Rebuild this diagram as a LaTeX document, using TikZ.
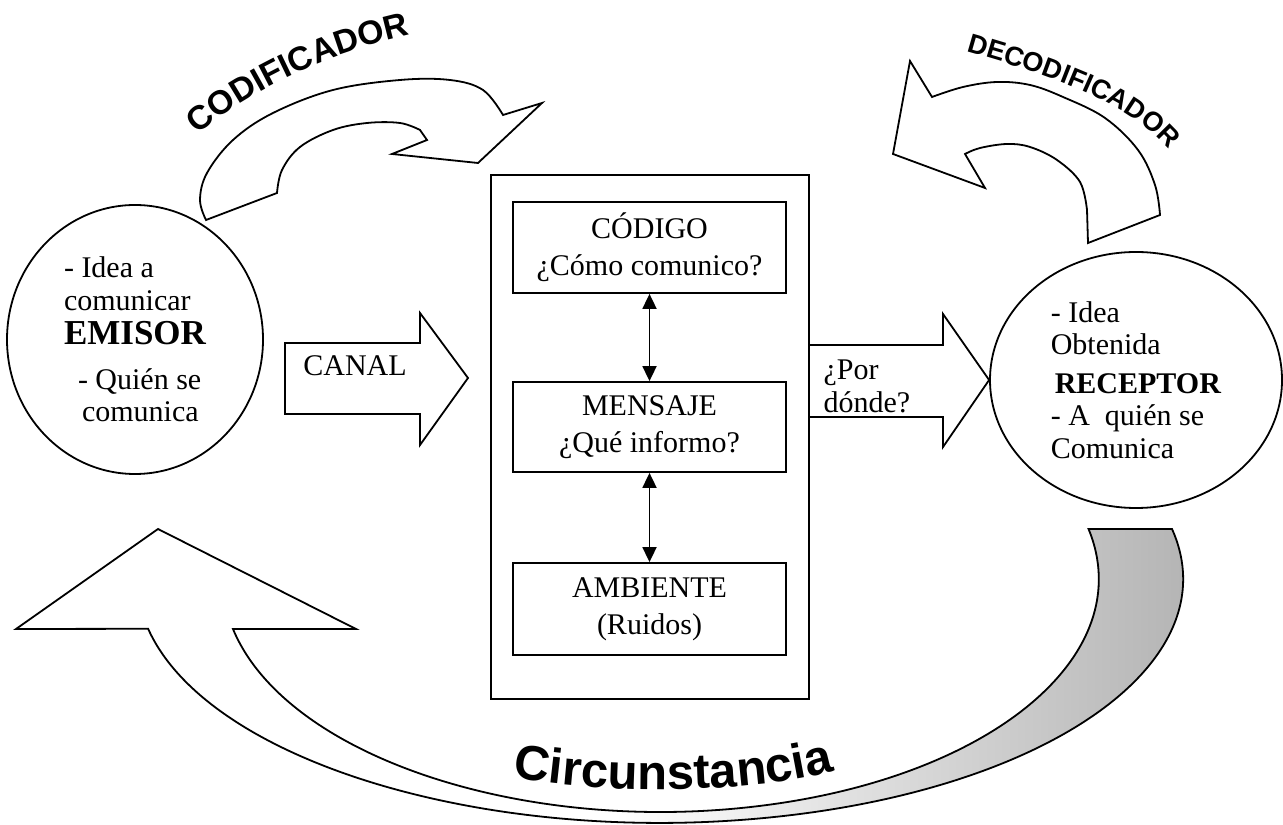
\documentclass[tikz,border=0pt]{standalone}
\usepackage{fontspec}
\setmainfont{Liberation Serif}
\newfontfamily\headfont{Liberation Sans}
\usetikzlibrary{arrows.meta,shapes.geometric,decorations.text}

\newcommand\codfont{\headfont\bfseries\fontsize{16.8}{18}\selectfont}
\newcommand\decfont{\headfont\bfseries\fontsize{13.5}{15}\selectfont}
\newcommand\circfont{\headfont\bfseries\fontsize{24.5}{26}\selectfont}

\begin{document}
\begin{tikzpicture}[x=0.5pt,y=0.5pt,line width=0.9pt,
                    blockarrow/.style={draw,line join=miter}]
\useasboundingbox (0,0) rectangle (1283,824);

\begin{scope}[every node/.style={draw,align=center,inner sep=0pt,
                                 font=\fontsize{15}{18.5}\selectfont}]
    \node[minimum width=159pt,minimum height=262pt] (medio) at (650,387) {};
    \node[minimum width=136.5pt,minimum height=45.5pt] (codigo) at (649.5,576.5) {CÓDIGO\\¿Cómo comunico?};
    \node[minimum width=136.5pt,minimum height=45pt] (mensaje) at (649.5,397) {MENSAJE\\¿Qué informo?};
    \node[minimum width=136.5pt,minimum height=46pt] (ambiente) at (649.5,215) {AMBIENTE\\(Ruidos)};
\end{scope}

\begin{scope}[every node/.style={ellipse,draw,align=left,inner sep=0pt,
                                 font=\fontsize{15}{16.3}\selectfont}]
    \node[minimum width=128pt,minimum height=134.5pt] (emisor) at (135,484.5)
        {- Idea a\\comunicar\\[1pt]{\fontsize{17.5}{20}\selectfont\bfseries EMISOR}\\[6pt]
         \hspace*{7pt}- Quién se\\\hspace*{9pt}comunica};
    \node[minimum width=146pt,minimum height=128pt] (receptor) at (1136,444)
        {- Idea\\Obtenida\\[3pt]\hspace*{2pt}\textbf{RECEPTOR}\\- A\ \ quién se\\Comunica};
\end{scope}

\begin{scope}[>={Triangle[length=7.5pt,width=7pt]},
              every edge/.style={draw,line width=0.9pt}]
    \path [<->] (codigo) edge (mensaje);
    \path [<->] (mensaje) edge (ambiente);
\end{scope}

\draw[blockarrow] (285,481) -- (420,481) -- (420,511) -- (468,446) -- (420,379) -- (420,410) -- (285,410) -- cycle;
\node[font=\fontsize{15}{16}\selectfont] (canal) at (355,458) {CANAL};

\draw[blockarrow] (medio.east |- 0,479) -- (943,479) -- (943,510) -- (receptor.west)
    -- (943,377) -- (943,407) -- (medio.east |- 0,407);
\node[anchor=west,align=left,font=\fontsize{15}{16.5}\selectfont] (pordonde) at (816,437.5) {¿Por\\dónde?};

\draw[blockarrow] plot[smooth,tension=0.6] coordinates {(206,604) (200,624) (207,651) (233,684) (273,711) (333,734) (400,744) (450,744) (483,734) (503,709)}
    -- (542,721) -- (478,661) -- (392,670) -- (427,684)
    -- plot[smooth,tension=0.6] coordinates {(420,694) (400,701) (367,701) (333,694) (300,677) (282,654) (277,631)}
    -- cycle;
\path[decorate,decoration={text along path,text align=center,text={|\codfont|CODIFICADOR}}]
    (192,684) .. controls (250,735) and (330,772) .. (418,791);

\draw[blockarrow] plot[smooth,tension=0.6] coordinates {(932,727) (963,737) (997,742) (1030,739) (1063,727) (1105,706) (1138,674) (1155,639) (1160,609)}
    -- (1088,581)
    -- plot[smooth,tension=0.6] coordinates {(1087,614) (1080,642) (1057,664) (1030,677) (1007,680) (980,676) (965,670)}
    -- (985,636) -- (893,670) -- (910,763) -- cycle;
\path[decorate,decoration={text along path,text align=center,text={|\decfont|DECODIFICADOR}}]
    (968,772) .. controls (1038,752) and (1125,725) .. (1168,676);

\shade[left color=white,right color=gray!60]
    (614.4,1.9) arc[start angle=-95,end angle=11.8,x radius=523,y radius=244]
    -- (1087.8,295) arc[start angle=12.4,end angle=-95,x radius=438,y radius=233] -- cycle;
\draw[blockarrow] (1172,295) arc[start angle=11.8,end angle=-168.2,x radius=523,y radius=244]
    -- (16,195) -- (158,295) -- (356,195) -- (233,195)
    arc[start angle=-167.6,end angle=12.4,x radius=438,y radius=233] -- cycle;
\path[decorate,decoration={text along path,text align=center,text={|\circfont|Circunstancia}}]
    (505,48) .. controls (590,30) and (760,28) .. (842,56);
\end{tikzpicture}
\end{document}
